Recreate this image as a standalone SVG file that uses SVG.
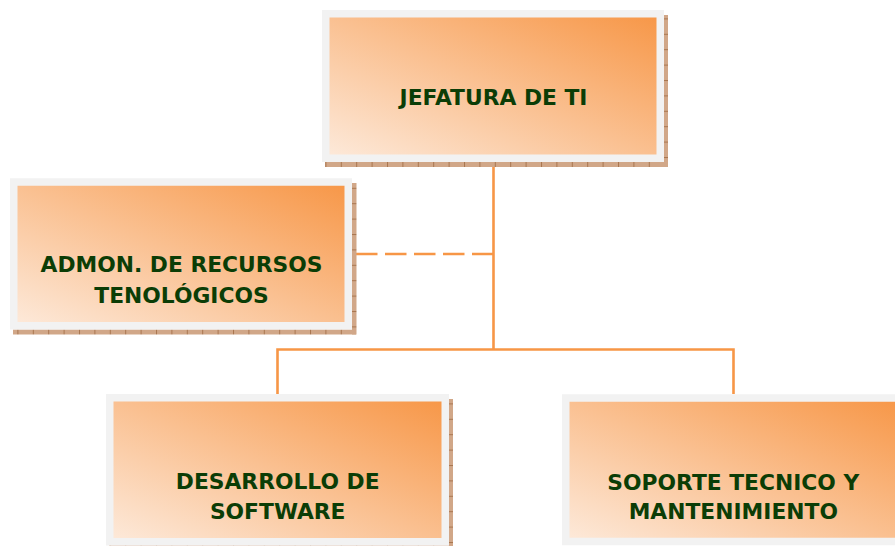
<svg xmlns="http://www.w3.org/2000/svg" width="895" height="546" viewBox="0 0 895 546">
  <style>
    .frame { fill: url(#boxGrad); stroke: #f2f2f2; stroke-width: 7.5; }
    .shB { fill: url(#tickV); }
    .shR { fill: url(#tickH); }
    .lbl { font-family: "DejaVu Sans", Verdana, sans-serif; font-weight: bold; font-size: 21.8px; fill: #0b3d06; text-anchor: middle; }
    .conn { fill: none; stroke: #f79646; stroke-width: 2.6; }
    .dash { stroke-dasharray: 21.5 7.5; }
  </style>
  <defs>
    <linearGradient id="boxGrad" x1="0" y1="1" x2="1" y2="0">
      <stop offset="0" stop-color="#fdeadb"/>
      <stop offset="1" stop-color="#f79646"/>
    </linearGradient>
    <pattern id="tickV" patternUnits="userSpaceOnUse" x="2" y="0" width="15.4" height="10">
      <rect width="15.4" height="10" fill="#d1a788"/>
      <rect x="0" y="0" width="1" height="10" fill="#a9764f"/>
    </pattern>
    <pattern id="tickH" patternUnits="userSpaceOnUse" x="0" y="3" width="10" height="15.4">
      <rect width="10" height="15.4" fill="#d1a788"/>
      <rect x="0" y="0" width="10" height="1" fill="#a9764f"/>
    </pattern>
  </defs>

  <g id="connectors">
    <path class="conn" d="M493.5 162V349.5M277.5 394V349.5H733.5V394"/>
    <path class="conn dash" d="M356 254H493.5"/>
  </g>

  <g id="node-jefatura">
    <rect class="shB" x="325" y="162" width="343" height="5"/>
    <rect class="shR" x="664" y="15" width="4" height="152"/>
    <rect class="frame" x="325.75" y="13.75" width="334.5" height="144.5"/>
    <text class="lbl" x="493.5" y="105">JEFATURA DE TI</text>
  </g>

  <g id="node-admon">
    <rect class="shB" x="13" y="329.5" width="343" height="5"/>
    <rect class="shR" x="352" y="183" width="4.5" height="151.5"/>
    <rect class="frame" x="13.75" y="182" width="334.5" height="143.75"/>
    <text class="lbl" x="181.5" y="272.3">ADMON. DE RECURSOS</text>
    <text class="lbl" x="181.5" y="302.7">TENOLÓGICOS</text>
  </g>

  <g id="node-desarrollo">
    <rect class="shB" x="109" y="545.5" width="343" height="5"/>
    <rect class="shR" x="449" y="399" width="4" height="152"/>
    <rect class="frame" x="109.75" y="397.75" width="335.5" height="144"/>
    <text class="lbl" x="277.7" y="489">DESARROLLO DE</text>
    <text class="lbl" x="277.7" y="519">SOFTWARE</text>
  </g>

  <g id="node-soporte">
    <rect class="shR" x="905" y="399" width="4" height="152"/>
    <rect class="frame" x="565.75" y="398" width="335.5" height="143.5"/>
    <text class="lbl" x="733.3" y="489.5">SOPORTE TECNICO Y</text>
    <text class="lbl" x="733.3" y="518.5">MANTENIMIENTO</text>
  </g>
</svg>
